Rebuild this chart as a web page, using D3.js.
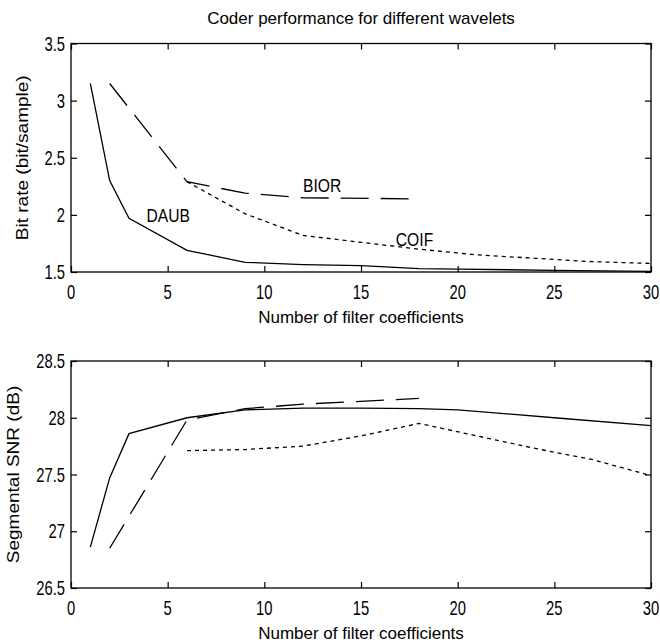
<!DOCTYPE html>
<html>
<head>
<meta charset="utf-8">
<script src="https://cdn.jsdelivr.net/npm/d3@7"></script>
<style>
  body { margin: 0; background: #fff; }
  text { fill: #000; font-family: "Liberation Sans", Arial, sans-serif; }
  .tick-lbl { font-size: 17px; }
  .curve-lbl { font-size: 16.5px; }
  .title, .xlab { font-size: 17px; }
  .ylab { font-size: 17px; }
</style>
</head>
<body>
<svg id="chart" width="660" height="644"></svg>
<script>
// x positions (number of filter coefficients)
var daubX = [1, 2, 3, 6, 9, 12, 15, 18, 20, 25, 30];
var biorX = [2, 6, 9, 12, 18];
var coifX = [6, 9, 12, 15, 18, 21, 24, 27, 30];

// bit rate (bit/sample)
var daubBit = [3.15, 2.3, 1.97, 1.69, 1.585, 1.565, 1.555, 1.53, 1.525, 1.515, 1.505];
var biorBit = [3.15, 2.29, 2.19, 2.15, 2.14];
var coifBit = [2.29, 2.01, 1.82, 1.76, 1.70, 1.65, 1.62, 1.59, 1.575];

// segmental SNR (dB)
var daubSnr = [26.86, 27.47, 27.86, 28.0, 28.07, 28.085, 28.085, 28.08, 28.07, 28.0, 27.93];
var biorSnr = [26.85, 27.98, 28.08, 28.12, 28.17];
var coifSnr = [27.71, 27.72, 27.75, 27.84, 27.95, 27.84, 27.73, 27.63, 27.49];

var xTicks = [0, 5, 10, 15, 20, 25, 30];
var bitTicks = [1.5, 2, 2.5, 3, 3.5];
var snrTicks = [26.5, 27, 27.5, 28, 28.5];

var curveNames = ["DAUB", "BIOR", "COIF"];
var nameX = [3.9, 12.0, 16.8];
var nameY = [1.94, 2.2, 1.73];

var title = "Coder performance for different wavelets";
var xTitle = "Number of filter coefficients";

var svg = d3.select("#chart");
var left = 71, right = 651;

var x = d3.scaleLinear().domain([0, 30]).range([left, right]);

function zip(xs, ys) {
  return xs.map(function(d, i) { return [d, ys[i]]; });
}

// text in the reference is squeezed sideways and tall
function tall(sel, px, py, sx, sy) {
  return sel.attr("transform", function(d, i) {
    return "translate(" + px(d, i) + "," + py(d, i) + ") scale(" + sx + "," + sy + ")";
  });
}

function panel(top, bottom, yDomain, yTicks, yTitle, series, labels) {
  var y = d3.scaleLinear().domain(yDomain).range([bottom, top]);
  var g = svg.append("g");

  // box
  g.append("rect")
    .attr("x", left).attr("y", top)
    .attr("width", right - left).attr("height", bottom - top)
    .attr("fill", "none").attr("stroke", "#000").attr("stroke-width", 1.3);

  // inward ticks on all four sides, labels done separately
  g.append("g").attr("transform", "translate(0," + bottom + ")")
    .call(d3.axisTop(x).tickValues(xTicks).tickSize(6).tickFormat(""))
    .call(function(a) { a.select(".domain").remove(); });
  g.append("g").attr("transform", "translate(0," + top + ")")
    .call(d3.axisBottom(x).tickValues(xTicks).tickSize(6).tickFormat(""))
    .call(function(a) { a.select(".domain").remove(); });
  g.append("g").attr("transform", "translate(" + left + ",0)")
    .call(d3.axisRight(y).tickValues(yTicks).tickSize(6).tickFormat(""))
    .call(function(a) { a.select(".domain").remove(); });
  g.append("g").attr("transform", "translate(" + right + ",0)")
    .call(d3.axisLeft(y).tickValues(yTicks).tickSize(6).tickFormat(""))
    .call(function(a) { a.select(".domain").remove(); });
  g.selectAll(".tick line").attr("stroke", "#000").attr("stroke-width", 1.2);

  tall(g.selectAll(".xt").data(xTicks).enter().append("text")
    .attr("class", "tick-lbl")
    .attr("text-anchor", "middle")
    .text(function(d) { return d; }),
    function(d) { return x(d); }, function() { return bottom + 27; }, 0.87, 1.15);

  tall(g.selectAll(".yt").data(yTicks).enter().append("text")
    .attr("class", "tick-lbl")
    .attr("text-anchor", "end")
    .text(function(d) { return d; }),
    function() { return left - 6; }, function(d) { return y(d) + 7; }, 0.87, 1.15);

  g.append("text")
    .attr("class", "xlab")
    .attr("x", (left + right) / 2)
    .attr("y", bottom + 51)
    .attr("text-anchor", "middle")
    .text(xTitle);

  g.append("text")
    .attr("class", "ylab")
    .attr("transform", "translate(" + yTitle.x + "," + (top + bottom) / 2 + ") scale(1,1.12) rotate(-90)")
    .attr("text-anchor", "middle")
    .text(yTitle.text);

  var line = d3.line()
    .x(function(d) { return x(d[0]); })
    .y(function(d) { return y(d[1]); });

  series.forEach(function(s) {
    g.append("path")
      .attr("d", line(s.pts))
      .attr("fill", "none")
      .attr("stroke", "#000")
      .attr("stroke-width", 1.3)
      .attr("stroke-dasharray", s.dash);
  });

  if (labels) {
    tall(g.selectAll(".cl").data(curveNames).enter().append("text")
      .attr("class", "curve-lbl")
      .text(function(d) { return d; }),
      function(d, i) { return x(nameX[i]); }, function(d, i) { return y(nameY[i]); }, 0.95, 1.15);
  }
}

svg.append("text")
  .attr("class", "title")
  .attr("x", (left + right) / 2)
  .attr("y", 24)
  .attr("text-anchor", "middle")
  .text(title);

panel(43.5, 272, [1.5, 3.5], bitTicks, {x: 28, text: "Bit rate (bit/sample)"}, [
  {pts: zip(daubX, daubBit), dash: null},
  {pts: zip(biorX, biorBit), dash: "28,12"},
  {pts: zip(coifX, coifBit), dash: "4,4"}
], true);

panel(361, 588, [26.5, 28.5], snrTicks, {x: 19, text: "Segmental SNR (dB)"}, [
  {pts: zip(daubX, daubSnr), dash: null},
  {pts: zip(biorX, biorSnr), dash: "28,12"},
  {pts: zip(coifX, coifSnr), dash: "4,4"}
], false);
</script>
</body>
</html>
